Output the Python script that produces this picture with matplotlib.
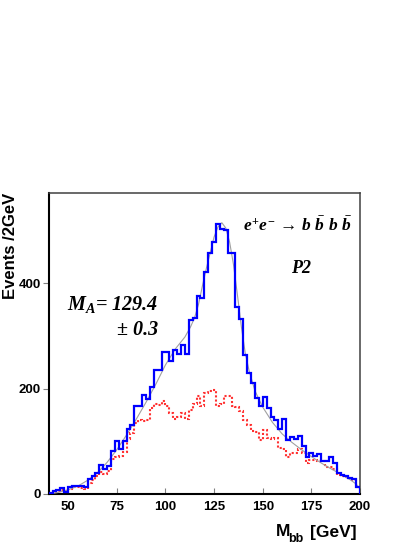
import numpy as np
import matplotlib
matplotlib.use("Agg")
import matplotlib.pyplot as plt

plt.rcParams['font.family'] = ['Liberation Sans', 'DejaVu Sans']
plt.rcParams['font.weight'] = 'bold'
plt.rcParams['mathtext.fontset'] = 'custom'
plt.rcParams['mathtext.it'] = 'Liberation Serif:italic:bold'
plt.rcParams['mathtext.rm'] = 'Liberation Serif:bold'
plt.rcParams['mathtext.bf'] = 'Liberation Serif:bold'

# M_bb histogram, 2 GeV bins from 40 to 200
bin_lo = 40
bin_width = 2
signal_bg = [2, 5, 8, 12, 3, 14, 15, 16, 16, 13,
             28, 34, 40, 55, 48, 53, 82, 100, 86, 100,
             123, 131, 168, 168, 188, 181, 204, 236, 236, 270,
             270, 252, 273, 265, 283, 265, 330, 334, 376, 372,
             422, 457, 478, 513, 503, 502, 457, 457, 355, 333,
             264, 229, 210, 183, 167, 185, 163, 146, 140, 123,
             142, 102, 108, 105, 110, 91, 70, 78, 73, 76,
             63, 63, 71, 58, 40, 36, 34, 31, 28, 14]
background = [2, 4, 6, 8, 6, 10, 13, 14, 12, 10,
              20, 26, 34, 42, 38, 44, 66, 70, 72, 80,
              105, 116, 134, 140, 138, 140, 163, 170, 169, 176,
              168, 153, 143, 146, 153, 143, 159, 170, 186, 168,
              191, 195, 197, 168, 170, 186, 186, 167, 166, 158,
              140, 131, 120, 118, 103, 121, 107, 104, 107, 88,
              85, 71, 78, 78, 85, 78, 58, 64, 64, 62,
              62, 51, 51, 48, 36, 34, 33, 31, 27, 14]

# fitted curve
fit_mass = [40, 45, 50, 55, 60, 65, 70, 75, 80, 85, 90, 95, 100, 105, 110,
            113, 115, 117, 119, 121, 123, 125, 127, 129, 131, 133, 135, 137,
            139, 141, 143, 146, 150, 155, 160, 165, 170, 175, 180, 185, 190,
            195, 198, 200]
fit_events = [0, 3, 8, 15, 26, 40, 60, 84, 112, 142, 174, 208, 245, 275, 298,
              318, 335, 360, 395, 428, 458, 488, 507, 515, 505, 478, 435, 378,
              318, 268, 234, 196, 165, 136, 114, 98, 84, 71, 59, 48, 38,
              27, 19, 10]

edges = bin_lo + bin_width * np.arange(len(signal_bg) + 1)

fig = plt.figure(figsize=(4.2, 5.43), dpi=100)
ax = fig.add_axes([48.7 / 420, 1 - 494 / 543, (360 - 48.7) / 420, (494 - 192.7) / 543])

ax.stairs(background, edges, baseline=0, color='#ff3030', lw=1.5,
          linestyle=(0, (1, 1)), zorder=2)
ax.plot(fit_mass, fit_events, color='#a0a0a0', lw=0.8, zorder=3)
ax.stairs(signal_bg, edges, baseline=0, color='#0000ff', lw=1.6, zorder=4)

ax.set_xlim(40, 200)
ax.set_ylim(0, 572)
ax.set_xticks([50, 75, 100, 125, 150, 175, 200])
ax.set_yticks([0, 200, 400])
ax.tick_params(axis='x', direction='in', length=4.5, width=0.8, color='#808080',
               pad=5, labelsize=9.5)
ax.tick_params(axis='y', direction='out', length=4, width=0.8, color='#808080',
               pad=1.5, labelsize=9.5)
for s in ['left', 'bottom']:
    ax.spines[s].set_linewidth(1.5)
    ax.spines[s].set_color('black')
for s in ['top', 'right']:
    ax.spines[s].set_linewidth(1.1)
    ax.spines[s].set_color('#404040')

serif = dict(family='Liberation Serif', weight='bold', style='italic')
ax.text(139.8, 499, r"$e^{+}e^{-}\,\rightarrow\, b\ \bar{b}\ b\ \bar{b}$",
        fontsize=12.5, ha='left', va='baseline', math_fontfamily='custom', **serif)
ax.text(164.5, 420, "P2", fontsize=13, ha='left', va='baseline', **serif)
ax.text(96.3, 349, r"$M_{A}$= 129.4", fontsize=14.5, ha='right', va='baseline',
        math_fontfamily='custom', **serif)
ax.text(96.3, 302, u"\u00b1 0.3", fontsize=14.5, ha='right', va='baseline', **serif)

fig.text(11 / 420, 1 - 193 / 543, "Events /2GeV", rotation=90, ha='center',
         va='top', fontsize=12)
base = 1 - 536.5 / 543
fig.text(276 / 420, base, "M", ha='left', va='baseline', fontsize=12.5)
fig.text(288.5 / 420, base - 5 / 543, "bb", ha='left', va='baseline', fontsize=9)
fig.text(357 / 420, base, "[GeV]", ha='right', va='baseline', fontsize=12.5)

fig.savefig("out.png", dpi=100)
